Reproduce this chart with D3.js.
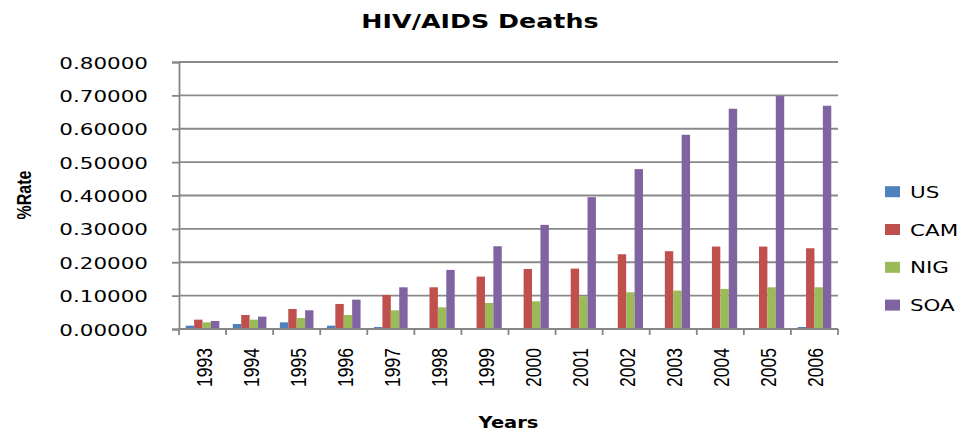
<!DOCTYPE html>
<html>
<head>
<meta charset="utf-8">
<script src="https://cdn.jsdelivr.net/npm/d3@7"></script>
<style>
  body { margin: 0; background: #fff; }
  svg { display: block; }
</style>
</head>
<body>
<div id="chart"></div>
<script>
// chart values
var years = ["1993", "1994", "1995", "1996", "1997", "1998", "1999",
             "2000", "2001", "2002", "2003", "2004", "2005", "2006"];
var seriesNames = ["US", "CAM", "NIG", "SOA"];
var US  = [0.010, 0.015, 0.020, 0.010, 0.006, 0.002, 0.002, 0.002, 0.002, 0.002, 0.002, 0.002, 0.002, 0.006];
var CAM = [0.028, 0.042, 0.060, 0.075, 0.102, 0.125, 0.157, 0.180, 0.181, 0.224, 0.233, 0.247, 0.247, 0.242];
var NIG = [0.020, 0.028, 0.033, 0.042, 0.056, 0.065, 0.078, 0.083, 0.098, 0.110, 0.115, 0.120, 0.125, 0.125];
var SOA = [0.024, 0.037, 0.056, 0.088, 0.125, 0.177, 0.248, 0.312, 0.395, 0.479, 0.582, 0.660, 0.698, 0.669];
var yTicks = [0, 0.1, 0.2, 0.3, 0.4, 0.5, 0.6, 0.7, 0.8];
var colors = ["#4F81BD", "#C0504D", "#9BBB59", "#8064A2"];

var seriesValues = [US, CAM, NIG, SOA];

// the original picture is stretched sideways, so the text gets the same stretch
var SX = 1.3;

var width = 964, height = 432;
var plot = { left: 179, right: 838, top: 62, bottom: 329 };

var svg = d3.select("#chart").append("svg")
    .attr("width", width)
    .attr("height", height);

// scales
var x0 = d3.scaleBand()
    .domain(years)
    .range([plot.left, plot.right])
    .paddingInner(0)
    .paddingOuter(0);
var x1 = d3.scaleBand()
    .domain(seriesNames)
    .range([0, x0.bandwidth()])
    .paddingInner(0)
    .paddingOuter(0.8);
var y = d3.scaleLinear()
    .domain([0, 0.8])
    .range([plot.bottom, plot.top]);
var color = d3.scaleOrdinal().domain(seriesNames).range(colors);

function stretch(x, yy, rotate) {
    return "translate(" + x + "," + yy + ") scale(" + SX + ",1)" + (rotate ? " rotate(-90)" : "");
}

// gridlines
svg.append("g")
    .selectAll("line")
    .data(yTicks.filter(function(d) { return d > 0; }))
    .enter().append("line")
    .attr("x1", plot.left)
    .attr("x2", plot.right)
    .attr("y1", function(d) { return y(d); })
    .attr("y2", function(d) { return y(d); })
    .attr("stroke", "#8a8a8a")
    .attr("stroke-width", 1.8);

// bars
var rows = years.map(function(yr, i) {
    return seriesNames.map(function(s, j) {
        return { year: yr, key: s, value: seriesValues[j][i] };
    });
});

svg.append("g")
    .selectAll("g")
    .data(rows)
    .enter().append("g")
    .attr("transform", function(d) { return "translate(" + x0(d[0].year) + ",0)"; })
    .selectAll("rect")
    .data(function(d) { return d; })
    .enter().append("rect")
    .attr("x", function(d) { return x1(d.key); })
    .attr("width", x1.bandwidth())
    .attr("y", function(d) { return y(d.value); })
    .attr("height", function(d) { return y(0) - y(d.value); })
    .attr("fill", function(d) { return color(d.key); });

// y axis
var yAxis = svg.append("g")
    .attr("transform", "translate(" + plot.left + ",0)")
    .call(d3.axisLeft(y)
        .tickValues(yTicks)
        .tickFormat(d3.format(".5f"))
        .tickSize(7));
yAxis.select(".domain").attr("stroke", "#868686").attr("stroke-width", 1.8);
yAxis.selectAll(".tick line").attr("stroke", "#868686").attr("stroke-width", 1.8);
yAxis.selectAll(".tick text")
    .attr("x", null)
    .attr("dy", null)
    .attr("transform", stretch(-31, 6, false))
    .attr("text-anchor", "end")
    .style("font-family", "'DejaVu Sans', Verdana, sans-serif")
    .style("font-size", "16.5px")
    .attr("fill", "#000");

// x axis
var xAxis = svg.append("g")
    .attr("transform", "translate(0," + plot.bottom + ")")
    .call(d3.axisBottom(x0).tickSize(0));
xAxis.select(".domain").remove();
xAxis.selectAll(".tick text")
    .attr("y", null)
    .attr("dy", null)
    .attr("transform", stretch(9, 19, true))
    .attr("text-anchor", "end")
    .style("font-family", "'Liberation Sans Narrow', 'Liberation Sans', Arial, sans-serif")
    .style("font-size", "17.5px")
    .attr("fill", "#000");

xAxis.append("line")
    .attr("x1", plot.left)
    .attr("x2", plot.right)
    .attr("stroke", "#868686")
    .attr("stroke-width", 1.8);
xAxis.selectAll(".bound")
    .data(d3.range(years.length + 1))
    .enter().append("line")
    .attr("class", "bound")
    .attr("x1", function(i) { return plot.left + i * x0.step(); })
    .attr("x2", function(i) { return plot.left + i * x0.step(); })
    .attr("y1", 0)
    .attr("y2", 6)
    .attr("stroke", "#868686")
    .attr("stroke-width", 1.8);

// title and axis titles
svg.append("text")
    .attr("transform", stretch(480, 28, false))
    .attr("text-anchor", "middle")
    .style("font-family", "'DejaVu Sans', Verdana, sans-serif")
    .style("font-weight", "bold")
    .style("font-size", "19.5px")
    .text("HIV/AIDS Deaths");

svg.append("text")
    .attr("transform", stretch((plot.left + plot.right) / 2, 428, false))
    .attr("text-anchor", "middle")
    .style("font-family", "'DejaVu Sans', Verdana, sans-serif")
    .style("font-weight", "bold")
    .style("font-size", "15px")
    .text("Years");

svg.append("text")
    .attr("transform", stretch(31, 195, true))
    .attr("text-anchor", "middle")
    .style("font-family", "'Liberation Sans', Arial, sans-serif")
    .style("font-weight", "bold")
    .style("font-size", "16px")
    .text("%Rate");

// legend
var legend = svg.append("g")
    .selectAll("g")
    .data(seriesNames)
    .enter().append("g")
    .attr("transform", function(d, i) { return "translate(885," + (191.7 + i * 37.8) + ")"; });
legend.append("rect")
    .attr("x", 0)
    .attr("y", -5.5)
    .attr("width", 15)
    .attr("height", 11)
    .attr("fill", function(d) { return color(d); });
legend.append("text")
    .attr("transform", stretch(25, 6, false))
    .style("font-family", "'DejaVu Sans', Verdana, sans-serif")
    .style("font-size", "16.5px")
    .text(function(d) { return d; });
</script>
</body>
</html>
